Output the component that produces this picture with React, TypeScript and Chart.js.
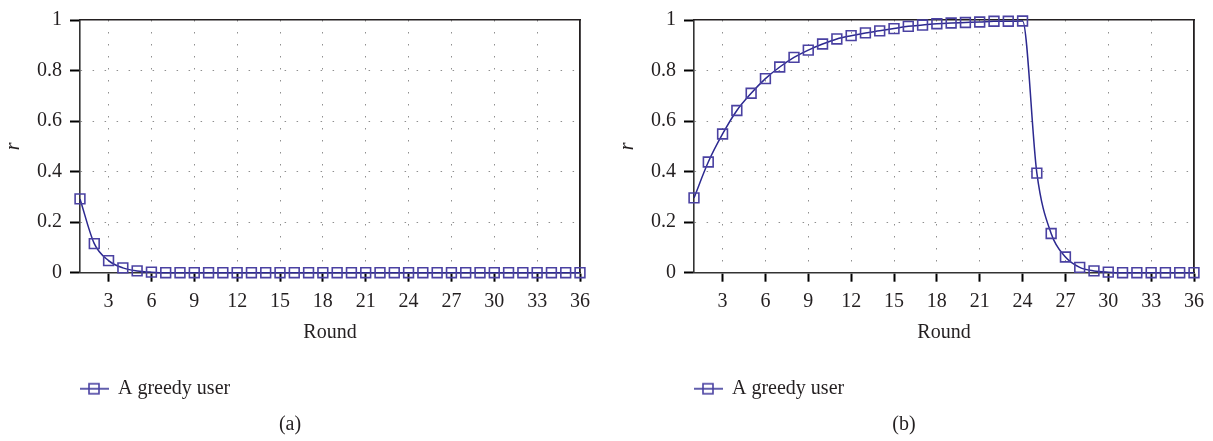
import React, { useEffect, useRef } from "react";
import { Chart, registerables } from "chart.js";

Chart.register(...registerables);

const ROUNDS = [1, 2, 3, 4, 5, 6, 7, 8, 9, 10, 11, 12, 13, 14, 15, 16, 17, 18, 19, 20, 21, 22, 23, 24, 25, 26, 27, 28, 29, 30, 31, 32, 33, 34, 35, 36];
const X_TICKS = [3, 6, 9, 12, 15, 18, 21, 24, 27, 30, 33, 36];
const Y_TICKS = [0, 0.2, 0.4, 0.6, 0.8, 1];
const SERIES_LABEL = "A greedy user";
const X_TITLE = "Round";
const Y_TITLE = "r";
const CAPTIONS = ["(a)", "(b)"];

const R_GREEDY_A = [0.292, 0.115, 0.048, 0.019, 0.007, 0.002, 0, 0, 0, 0, 0, 0, 0, 0, 0, 0, 0, 0, 0, 0, 0, 0, 0, 0, 0, 0, 0, 0, 0, 0, 0, 0, 0, 0, 0, 0];
const R_GREEDY_B = [0.296, 0.438, 0.549, 0.642, 0.71, 0.768, 0.814, 0.852, 0.881, 0.905, 0.925, 0.938, 0.949, 0.957, 0.966, 0.975, 0.98, 0.985, 0.988, 0.99, 0.992, 0.995, 0.995, 0.996, 0.394, 0.155, 0.062, 0.021, 0.007, 0.002, 0, 0, 0, 0, 0, 0];

const FONT = "'Liberation Serif', 'Times New Roman', serif";
const FONT_SIZE = 20;
const TEXT_COLOR = "#231f20";
const LINE_COLOR = "#2c2990";
const MARKER_COLOR = "#4a41a2";
const GRID_COLOR = "#8f8f8f";
const AXIS_COLOR = "#333333";
const FRAME_COLOR = "#231f20";
const CLEAR = "rgba(0,0,0,0)";
const GRID_DASH = [1.5, 10.5];

function makeMarker(): HTMLCanvasElement {
  const c = document.createElement("canvas");
  c.width = 30;
  c.height = 14;
  const g = c.getContext("2d")!;
  g.strokeStyle = LINE_COLOR;
  g.lineWidth = 1.5;
  g.beginPath();
  g.moveTo(0, 7);
  g.lineTo(30, 7);
  g.stroke();
  g.strokeStyle = MARKER_COLOR;
  g.lineWidth = 1.6;
  g.strokeRect(10, 2, 10, 10);
  return c;
}

function makeConfig(values: number[], caption: string, marker: HTMLCanvasElement): any {
  const font = { family: FONT, size: FONT_SIZE };
  return {
    type: "line",
    data: {
      datasets: [
        {
          label: SERIES_LABEL,
          data: ROUNDS.map((r, i) => ({ x: r, y: values[i] })),
          borderColor: LINE_COLOR,
          borderWidth: 1.5,
          backgroundColor: CLEAR,
          pointStyle: "rect",
          pointRadius: 6.9,
          pointBorderWidth: 1.6,
          pointBorderColor: MARKER_COLOR,
          pointBackgroundColor: CLEAR,
          cubicInterpolationMode: "monotone",
          clip: false,
        },
      ],
    },
    options: {
      responsive: false,
      animation: false,
      layout: { padding: { top: 14, left: 0, right: 19, bottom: 0 } },
      plugins: {
        tooltip: { enabled: false },
        legend: {
          display: true,
          position: "bottom",
          align: "start",
          fullSize: false,
          labels: {
            usePointStyle: true,
            pointStyleWidth: 28,
            padding: 0,
            color: TEXT_COLOR,
            font,
            generateLabels: () => [
              {
                text: SERIES_LABEL,
                pointStyle: marker,
                fillStyle: CLEAR,
                strokeStyle: CLEAR,
                lineWidth: 0,
                fontColor: TEXT_COLOR,
                datasetIndex: 0,
              },
            ],
          },
        },
        title: {
          display: true,
          position: "bottom",
          text: caption,
          color: TEXT_COLOR,
          font: { family: FONT, size: FONT_SIZE, weight: "normal" },
          padding: { top: 4.3, bottom: 4 },
        },
      },
      scales: {
        x: {
          type: "linear",
          position: "bottom",
          min: ROUNDS[0],
          max: ROUNDS[ROUNDS.length - 1],
          afterBuildTicks: (s: any) => {
            s.ticks = X_TICKS.map((v) => ({ value: v }));
          },
          afterFit: (s: any) => {
            s.height = 106;
          },
          ticks: { color: TEXT_COLOR, font, padding: 8, maxRotation: 0, autoSkip: false },
          grid: {
            color: (ctx: any) => (ctx.tick && ctx.tick.value === ROUNDS[ROUNDS.length - 1] ? CLEAR : GRID_COLOR),
            lineWidth: 1,
            tickColor: "#000",
            tickWidth: 2,
            tickLength: 9,
            tickBorderDash: [],
          },
          border: { display: true, color: AXIS_COLOR, width: 1.6, dash: GRID_DASH },
          title: {
            display: true,
            text: X_TITLE,
            color: TEXT_COLOR,
            font,
            padding: { top: 0, bottom: 33.7 },
          },
        },
        y: {
          type: "linear",
          position: "left",
          min: 0,
          max: 1,
          afterBuildTicks: (s: any) => {
            s.ticks = Y_TICKS.map((v) => ({ value: v }));
          },
          afterFit: (s: any) => {
            s.width = 80;
          },
          ticks: { color: TEXT_COLOR, font, padding: 8, callback: (v: any) => String(v) },
          grid: {
            color: (ctx: any) =>
              ctx.tick && (ctx.tick.value === 0 || ctx.tick.value === 1) ? CLEAR : GRID_COLOR,
            lineWidth: 1,
            tickColor: "#000",
            tickWidth: 2,
            tickLength: 10,
            tickBorderDash: [],
          },
          border: { display: true, color: AXIS_COLOR, width: 1.6, dash: GRID_DASH },
          title: {
            display: true,
            text: Y_TITLE,
            color: TEXT_COLOR,
            font: { family: FONT, size: FONT_SIZE, style: "italic" },
            padding: { top: 2, bottom: 0 },
          },
        },
        xTop: {
          type: "linear",
          position: "top",
          min: 0,
          max: 1,
          ticks: { display: false },
          grid: { display: false, drawTicks: false },
          border: { display: true, color: FRAME_COLOR, width: 1.5 },
        },
        yRight: {
          type: "linear",
          position: "right",
          min: 0,
          max: 1,
          ticks: { display: false },
          grid: { display: false, drawTicks: false },
          border: { display: true, color: FRAME_COLOR, width: 1.8 },
        },
      },
    },
  };
}

export default function App() {
  const leftRef = useRef<HTMLCanvasElement | null>(null);
  const rightRef = useRef<HTMLCanvasElement | null>(null);

  useEffect(() => {
    const marker = makeMarker();
    const charts: Chart[] = [];
    if (leftRef.current) charts.push(new Chart(leftRef.current, makeConfig(R_GREEDY_A, CAPTIONS[0], marker)));
    if (rightRef.current) charts.push(new Chart(rightRef.current, makeConfig(R_GREEDY_B, CAPTIONS[1], marker)));
    return () => {
      charts.forEach((c) => c.destroy());
    };
  }, []);

  return (
    <div
      style={{
        position: "fixed",
        left: 0,
        top: 0,
        width: 1213,
        height: 441,
        overflow: "hidden",
        background: "#fff",
      }}
    >
      <canvas ref={leftRef} width={599} height={441} style={{ position: "absolute", left: 0, top: 0 }} />
      <canvas ref={rightRef} width={599} height={441} style={{ position: "absolute", left: 614, top: 0 }} />
    </div>
  );
}
